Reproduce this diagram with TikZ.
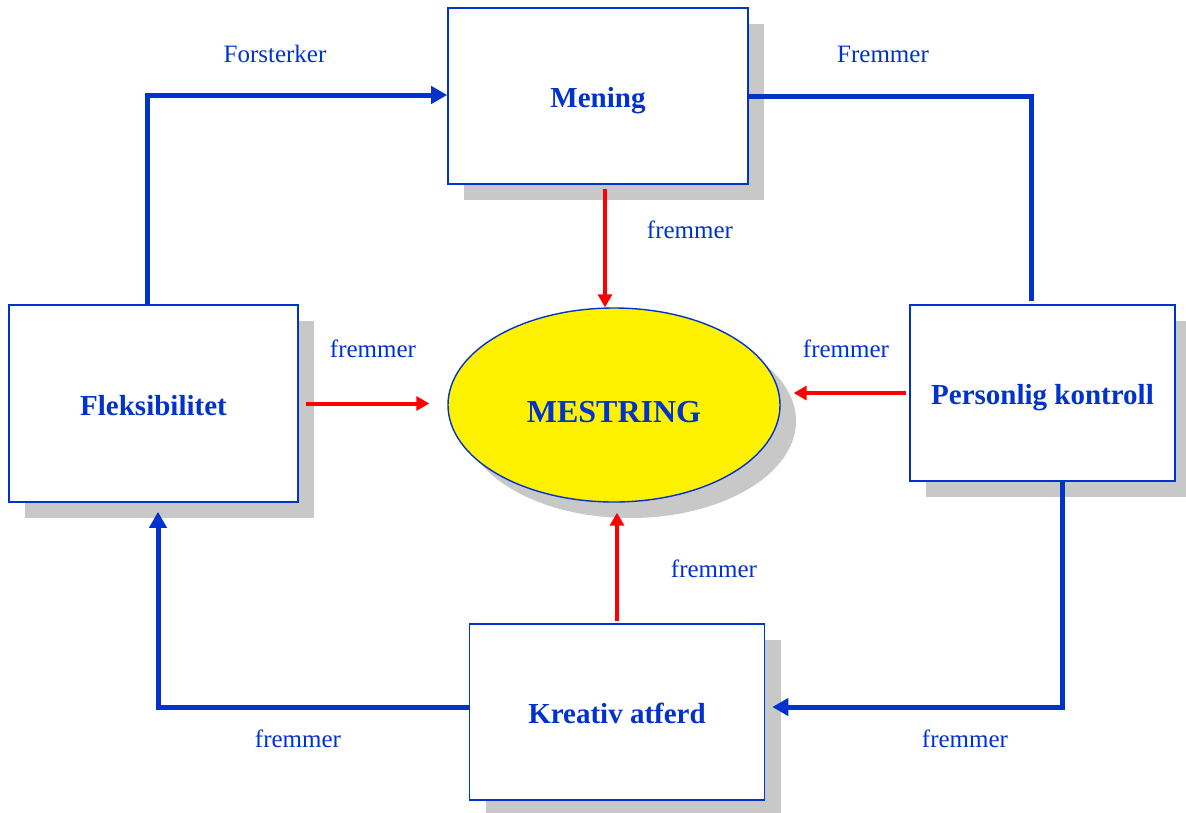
\documentclass[tikz,border=0pt]{standalone}
\usepackage{fontspec}
\setmainfont{Liberation Serif}
\usepackage{xcolor}
\usetikzlibrary{shapes.geometric, shadows, arrows.meta, positioning}
\definecolor{ublue}{RGB}{0,51,204}
\definecolor{shade}{RGB}{200,200,200}

\begin{document}
\begin{tikzpicture}[x=1pt,y=-1pt,
                    box node/.style={rectangle,draw=ublue,line width=1.6pt,fill=white,text=ublue,font=\fontsize{29}{32}\selectfont\bfseries,
                      text height=23pt,text depth=0pt,
                      drop shadow={shadow xshift=16pt,shadow yshift=-16pt,fill=shade,opacity=1}},
                    core node/.style={ellipse,draw=ublue,line width=1.4pt,fill=yellow,text=ublue,font=\fontsize{32}{35}\selectfont\bfseries,
                      text height=34pt,text depth=0pt,
                      drop shadow={shadow xshift=16pt,shadow yshift=-16pt,fill=shade,opacity=1}},
                    lbl/.style={text=ublue,font=\fontsize{25}{28}\selectfont,inner sep=0pt},
                    loop/.style={draw=ublue,line width=5pt,-{Triangle[length=16pt,width=17pt]}},
                    push/.style={draw=red,line width=4pt,-{Triangle[length=13pt,width=14pt]}}]
  \useasboundingbox (0,0) rectangle (1186,812);

  \node[box node,minimum width=300pt,minimum height=176pt] (1) at (598,96) {Mening};
  \node[box node,minimum width=289pt,minimum height=197pt] (2) at (153.5,403.5) {Fleksibilitet};
  \node[box node,minimum width=265pt,minimum height=176pt] (3) at (1042.5,393) {Personlig kontroll};
  \node[box node,minimum width=295pt,minimum height=176pt] (4) at (617,712) {Kreativ atferd};
  \node[core node,minimum width=332pt,minimum height=194pt,inner sep=0pt] (5) at (614,405) {MESTRING};

  % outer loop
  \draw[loop] ([xshift=-6pt]2.north) |- ([yshift=1pt]1.west);
  \draw[loop,-] (1.east) -| ([xshift=-11.5pt,yshift=3pt]3.north);
  \draw[loop,shorten >=7pt] ([xshift=19.5pt]3.south) |- ([yshift=5pt]4.east);
  \draw[loop,shorten >=9pt] ([yshift=5pt]4.west) -| ([xshift=4.5pt]2.south);

  % into the core
  \draw[push,shorten <=4pt] ([xshift=7pt]1.south) -- ([xshift=7pt]1.south |- 5.north);
  \draw[push,shorten <=7pt,shorten >=18pt] (2.east) -- (2.east -| 5.west);
  \draw[push,shorten <=3pt,shorten >=13pt] (3.west) -- (3.west -| 5.east);
  \draw[push,shorten <=2pt,shorten >=10pt] (4.north) -- (4.north |- 5.south);

  \node[lbl] (f1) at (275,54) {Forsterker};
  \node[lbl] (f2) at (883,54) {Fremmer};
  \node[lbl] (f3) at (690,230) {fremmer};
  \node[lbl] (f4) at (373,349) {fremmer};
  \node[lbl] (f5) at (846,349) {fremmer};
  \node[lbl] (f6) at (714,569) {fremmer};
  \node[lbl] (f7) at (298,739) {fremmer};
  \node[lbl] (f8) at (965,739) {fremmer};
\end{tikzpicture}
\end{document}
